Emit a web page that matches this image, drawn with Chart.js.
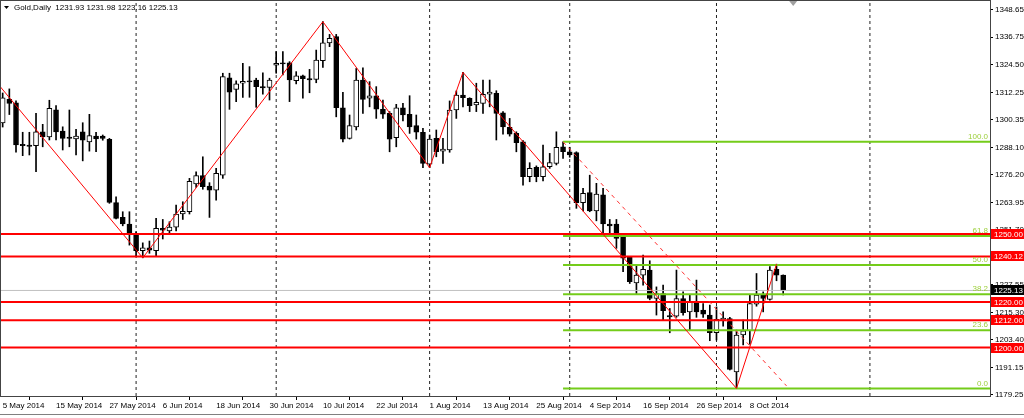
<!DOCTYPE html>
<html><head><meta charset="utf-8">
<script src="https://cdn.jsdelivr.net/npm/chart.js@4/dist/chart.umd.min.js"></script>
<style>html,body{margin:0;padding:0;background:#fff;overflow:hidden}canvas{display:block}</style>
</head><body>
<canvas id="c" width="1024" height="418"></canvas>
<script>
const symbolName = 'Gold,Daily';
const opens = [1298.9,1309.3,1307.8,1289.5,1289.2,1288.9,1295.0,1292.8,1304.7,1295.3,1292.7,1291.9,1295.0,1290.6,1293.1,1293.1,1291.7,1263.8,1257.3,1254.4,
1249.5,1242.6,1243.9,1242.6,1252.5,1251.4,1253.0,1258.8,1259.8,1272.0,1275.7,1271.1,1269.3,1275.9,1318.8,1313.7,1316.4,1317.5,1317.8,1314.9,
1314.6,1324.3,1325.4,1325.4,1317.5,1319.6,1318.4,1318.1,1326.3,1334.1,1336.9,1305.6,1292.1,1297.2,1317.8,1309.8,1310.9,1304.9,1303.1,1292.4,
1305.6,1302.7,1297.7,1294.8,1280.8,1292.1,1286.5,1287.0,1304.6,1311.2,1309.8,1306.8,1307.5,1311.6,1311.9,1303.4,1297.0,1294.3,1290.6,1275.2,
1279.4,1275.2,1279.6,1281.1,1288.4,1286.2,1285.8,1263.8,1268.2,1260.2,1267.2,1254.4,1254.4,1248.5,1239.7,1228.5,1231.9,1234.1,1221.6,1223.8,
1214.1,1213.8,1221.6,1215.7,1220.1,1216.5,1214.3,1206.5,1212.1,1212.8,1189.3,1205.5,1207.4,1219.1,1223.1,1221.2,1234.4,1231.93];
const highs = [1312.1,1313.9,1308.6,1294.8,1294.8,1303.1,1298.3,1308.9,1306.5,1297.2,1304.6,1296.1,1299.0,1302.7,1294.8,1293.6,1292.1,1266.4,1259.8,1259.8,
1251.0,1246.1,1246.9,1256.9,1256.4,1255.4,1262.7,1264.2,1274.5,1277.4,1284.0,1272.6,1278.9,1320.8,1320.8,1317.5,1325.2,1323.7,1318.6,1321.0,
1318.6,1330.3,1330.3,1325.9,1321.5,1320.0,1322.5,1331.0,1343.5,1337.9,1337.9,1312.4,1302.4,1322.9,1323.2,1317.1,1314.9,1309.0,1303.9,1307.1,
1307.5,1310.9,1302.4,1296.5,1293.6,1295.8,1292.1,1308.6,1313.0,1321.2,1310.0,1316.4,1317.8,1317.8,1313.1,1303.9,1300.9,1295.0,1291.1,1281.4,
1280.0,1289.2,1285.5,1295.0,1290.6,1288.2,1286.2,1270.1,1275.9,1272.3,1270.1,1256.4,1256.4,1248.8,1240.0,1236.3,1240.7,1238.2,1226.7,1227.5,
1217.2,1234.1,1224.5,1223.1,1229.7,1219.4,1218.7,1217.9,1215.7,1213.3,1207.7,1212.1,1223.1,1232.6,1224.5,1235.6,1236.7,1231.98];
const lows = [1297.1,1302.6,1286.0,1284.5,1284.8,1277.4,1288.4,1291.4,1291.4,1287.0,1288.4,1284.8,1282.2,1286.5,1286.2,1291.3,1263.5,1256.6,1253.6,1245.1,
1240.0,1239.5,1241.5,1240.0,1247.8,1250.5,1251.4,1256.4,1258.8,1270.5,1269.7,1257.3,1264.9,1274.5,1304.9,1308.3,1310.2,1310.2,1305.8,1311.6,
1309.0,1320.8,1320.0,1308.3,1316.1,1309.8,1312.2,1316.6,1323.4,1332.5,1301.6,1290.6,1291.8,1295.8,1303.1,1306.0,1300.9,1300.9,1286.2,1288.4,
1299.8,1294.3,1291.8,1279.2,1279.2,1284.0,1281.1,1286.0,1300.9,1306.0,1303.9,1303.9,1303.1,1306.0,1291.4,1294.0,1293.1,1286.2,1271.5,1273.0,
1273.0,1273.4,1278.9,1280.4,1283.3,1283.8,1261.3,1260.2,1259.8,1255.8,1249.5,1249.5,1243.7,1233.4,1228.2,1223.8,1227.5,1221.0,1214.3,1211.8,
1206.5,1213.3,1214.3,1207.4,1213.3,1213.3,1203.0,1203.3,1209.4,1190.1,1182.0,1201.1,1201.5,1218.2,1215.7,1220.9,1229.4,1223.16];
const closes = [1310.0,1307.5,1289.2,1288.9,1288.6,1295.0,1292.7,1305.3,1295.0,1292.1,1292.1,1293.1,1291.3,1293.3,1291.9,1292.1,1263.9,1256.9,1254.4,1249.8,
1242.6,1243.9,1242.9,1252.5,1251.7,1253.0,1258.8,1260.0,1273.2,1275.7,1270.8,1269.3,1276.7,1319.3,1312.5,1316.1,1317.2,1317.0,1314.9,1314.3,
1317.8,1325.2,1324.9,1317.8,1319.6,1318.4,1317.8,1326.6,1334.2,1336.2,1305.6,1291.8,1297.7,1317.8,1309.3,1310.9,1305.0,1302.8,1291.8,1305.6,
1302.4,1297.2,1294.8,1281.1,1291.8,1286.2,1287.4,1304.6,1311.2,1310.0,1306.5,1308.0,1311.5,1312.5,1303.1,1297.2,1294.0,1290.2,1275.2,1278.9,
1275.2,1279.6,1281.4,1288.2,1286.2,1284.8,1263.8,1267.9,1260.2,1267.6,1254.4,1253.5,1248.1,1239.3,1229.0,1231.9,1234.4,1221.6,1223.8,1216.2,
1213.5,1221.6,1215.3,1220.1,1215.7,1214.7,1206.5,1212.4,1213.0,1190.4,1205.5,1207.4,1219.4,1223.1,1221.6,1234.1,1231.9,1225.13];

const xTickLabels = ['5 May 2014','15 May 2014','27 May 2014','6 Jun 2014','18 Jun 2014','30 Jun 2014','10 Jul 2014','22 Jul 2014',
  '1 Aug 2014','13 Aug 2014','25 Aug 2014','4 Sep 2014','16 Sep 2014','26 Sep 2014','8 Oct 2014'];
const xTickStep = 8;
const yTicks = [1348.65,1336.75,1324.50,1312.25,1300.35,1288.10,1276.20,1263.95,1251.70,1239.80,1227.55,1215.30,1203.40,1191.15,1179.25];
const monthStartBars = [20,41,64,85,107,130];
const levelLines = [1250.00,1240.12,1220.00,1212.00,1200.00];
const fibLevels = [0,23.6,38.2,50,61.8,100];
const fibHighBar = 84, fibLowBar = 110;
const zigzagStart = {bar:-0.4, price:1315.0};
const zigzagBars = [21,48,64,69,110,116];
const zigzagKinds = ['L','H','L','H','L','H'];
const trendLine = [{bar:84, price:1290.6},{bar:117.5, price:1183.1}];
const xMin = -0.4, xMax = 148.0, yMin = 1178.65, yMax = 1353.05;
const shiftBar = 118.5;

const FONT = 'Liberation Sans, Arial, sans-serif';
const idx = opens.map((_, i) => i);
const lastI = opens.length - 1;
const fibHi = highs[fibHighBar], fibLo = lows[fibLowBar];
const fibPrice = l => fibLo + (fibHi - fibLo) * l / 100;

const datasets = [];
// period separators
monthStartBars.forEach(b => datasets.push({type:'line', data:[{x:b,y:yMin},{x:b,y:yMax}], borderColor:'#222', borderWidth:1, borderDash:[3,3], pointRadius:0, order:10}));
// wicks
datasets.push({type:'bar', data: idx.map(i => ({x:i, y:[lows[i], highs[i]]})), backgroundColor:'#000', borderWidth:0,
  grouped:false, barPercentage:1, categoryPercentage:1, maxBarThickness:1, order:6});
// bodies
datasets.push({type:'bar', data: idx.map(i => ({x:i, y:[opens[i], closes[i]]})),
  backgroundColor: idx.map(i => closes[i] >= opens[i] ? '#fff' : '#000'), borderColor:'#000', borderWidth:1, borderSkipped:false,
  grouped:false, barPercentage:1, categoryPercentage:1, maxBarThickness:5, order:5});
// bid line
datasets.push({type:'line', data:[{x:xMin,y:closes[lastI]},{x:xMax,y:closes[lastI]}], borderColor:'#c0c0c0', borderWidth:1, pointRadius:0, order:4});
// fib lines
fibLevels.forEach(l => datasets.push({type:'line', data:[{x:fibHighBar,y:fibPrice(l)},{x:xMax,y:fibPrice(l)}], borderColor:'#74cc1a', borderWidth:2, pointRadius:0, order:3}));
// level lines
levelLines.forEach(v => datasets.push({type:'line', data:[{x:xMin,y:v},{x:xMax,y:v}], borderColor:'#ff0000', borderWidth:2, pointRadius:0, order:2}));
// zigzag
datasets.push({type:'line', data:[{x:zigzagStart.bar,y:zigzagStart.price}].concat(zigzagBars.map((b,k)=>({x:b, y: zigzagKinds[k]==='H'?highs[b]:lows[b]}))),
  borderColor:'#ff0000', borderWidth:1, pointRadius:0, tension:0, order:1});
// trend dashed
datasets.push({type:'line', data: trendLine.map(p=>({x:p.bar,y:p.price})), borderColor:'#ff3030', borderWidth:1, borderDash:[4,4], pointRadius:0, order:1});

const overlay = {
  id:'overlay',
  afterDraw(chart){
    const {ctx, chartArea:a, scales:{x, y}} = chart;
    ctx.save();
    ctx.strokeStyle = '#444'; ctx.lineWidth = 1;
    ctx.strokeRect(a.left+0.5, a.top+0.5, a.right-a.left, a.bottom-a.top);
    // fib labels
    ctx.font = '8px ' + FONT; ctx.textAlign = 'right'; ctx.textBaseline = 'bottom'; ctx.fillStyle = '#9ccf3a';
    fibLevels.forEach(l => ctx.fillText(l.toFixed(1), a.right - 2, y.getPixelForValue(fibPrice(l)) - 1));
    // level boxes
    ctx.textAlign = 'left'; ctx.textBaseline = 'middle';
    const box = (v, bg) => {
      const py = Math.round(y.getPixelForValue(v));
      ctx.fillStyle = bg; ctx.fillRect(a.right+1, py-5, chart.width-a.right-1, 10);
      ctx.fillStyle = '#fff'; ctx.fillText(v.toFixed(2), a.right+4, py+0.5);
    };
    levelLines.forEach(v => box(v, '#ff0000'));
    box(closes[lastI], '#000');
    // header
    ctx.fillStyle = '#000'; ctx.font = '8px ' + FONT; ctx.textBaseline = 'middle';
    ctx.beginPath(); ctx.moveTo(4,6); ctx.lineTo(9,6); ctx.lineTo(6.5,9); ctx.closePath(); ctx.fill();
    ctx.fillText(symbolName + '  ' + [opens[lastI], highs[lastI], lows[lastI], closes[lastI]].map(v=>v.toFixed(2)).join(' '), 14, 8);
    // shift marker
    const sx = x.getPixelForValue(shiftBar);
    ctx.fillStyle = '#a0a0a0'; ctx.beginPath(); ctx.moveTo(sx-4,1); ctx.lineTo(sx+4,1); ctx.lineTo(sx,6); ctx.closePath(); ctx.fill();
    // bottom tab line
    ctx.strokeStyle = '#808080'; ctx.beginPath(); ctx.moveTo(0,414.5); ctx.lineTo(chart.width,414.5); ctx.stroke();
    ctx.restore();
  }
};

new Chart(document.getElementById('c'), {
  type:'bar',
  data:{datasets},
  options:{
    responsive:false, animation:false, devicePixelRatio:1, events:[],
    layout:{padding:0},
    plugins:{legend:{display:false}, tooltip:{enabled:false}},
    scales:{
      x:{type:'linear', min:xMin, max:xMax, offset:false,
        afterBuildTicks: s => { s.ticks = xTickLabels.map((_,k)=>({value:k*xTickStep})); },
        afterFit: s => { s.height = 22; s.paddingLeft = 0; s.paddingRight = 0; },
        ticks:{autoSkip:false, maxRotation:0, minRotation:0, align:'start', padding:1, color:'#000', font:{family:FONT, size:8},
          callback: v => xTickLabels[Math.round(v/xTickStep)]},
        grid:{drawOnChartArea:false, drawTicks:true, tickLength:4, color:'#000'},
        border:{display:false}},
      y:{type:'linear', position:'right', min:yMin, max:yMax,
        afterBuildTicks: s => { s.ticks = yTicks.map(v=>({value:v})); },
        afterFit: s => { s.width = 34; s.paddingTop = 0; s.paddingBottom = 0; },
        ticks:{autoSkip:false, padding:2, color:'#000', font:{family:FONT, size:8}, callback: v => v.toFixed(2)},
        grid:{drawOnChartArea:false, drawTicks:true, tickLength:3, color:'#000'},
        border:{display:false}}
    }
  },
  plugins:[overlay]
});
</script>
</body></html>
